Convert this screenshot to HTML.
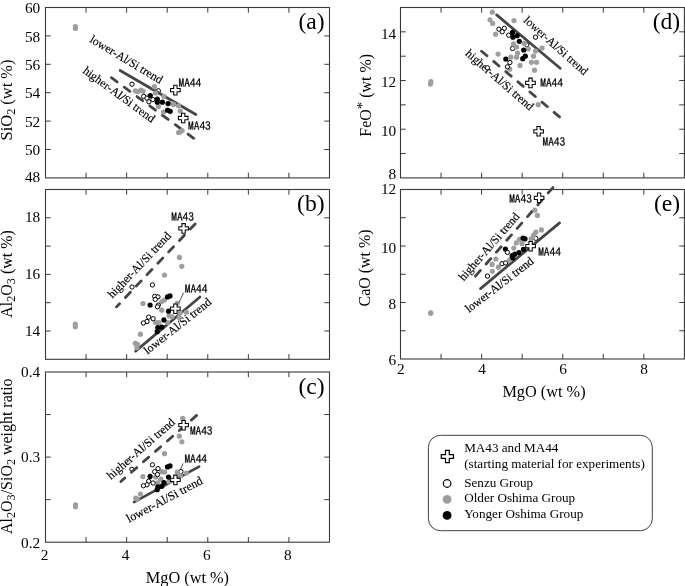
<!DOCTYPE html>
<html><head><meta charset="utf-8"><title>Figure</title>
<style>html,body{margin:0;padding:0;background:#fff}svg{display:block}text{fill:#000}</style></head>
<body><svg width="685" height="586" viewBox="0 0 685 586">
<rect width="685" height="586" fill="#fff"/>
<rect x="45.5" y="7.5" width="284.00" height="170.40" fill="none" stroke="#3a3a3a" stroke-width="1.1"/>
<path d="M86.07 7.5v5.2M86.07 177.9v-5.2M126.64 7.5v5.2M126.64 177.9v-5.2M167.21 7.5v5.2M167.21 177.9v-5.2M207.79 7.5v5.2M207.79 177.9v-5.2M248.36 7.5v5.2M248.36 177.9v-5.2M288.93 7.5v5.2M288.93 177.9v-5.2M45.5 149.50h5.2M329.5 149.50h-5.2M45.5 121.10h5.2M329.5 121.10h-5.2M45.5 92.70h5.2M329.5 92.70h-5.2M45.5 64.30h5.2M329.5 64.30h-5.2M45.5 35.90h5.2M329.5 35.90h-5.2" stroke="#3a3a3a" stroke-width="1" fill="none"/>
<rect x="45.5" y="189.5" width="284.00" height="169.80" fill="none" stroke="#3a3a3a" stroke-width="1.1"/>
<path d="M86.07 189.5v5.2M86.07 359.3v-5.2M126.64 189.5v5.2M126.64 359.3v-5.2M167.21 189.5v5.2M167.21 359.3v-5.2M207.79 189.5v5.2M207.79 359.3v-5.2M248.36 189.5v5.2M248.36 359.3v-5.2M288.93 189.5v5.2M288.93 359.3v-5.2M45.5 331.00h5.2M329.5 331.00h-5.2M45.5 302.70h5.2M329.5 302.70h-5.2M45.5 274.40h5.2M329.5 274.40h-5.2M45.5 246.10h5.2M329.5 246.10h-5.2M45.5 217.80h5.2M329.5 217.80h-5.2" stroke="#3a3a3a" stroke-width="1" fill="none"/>
<rect x="45.5" y="372.0" width="284.00" height="170.20" fill="none" stroke="#3a3a3a" stroke-width="1.1"/>
<path d="M86.07 372.0v5.2M86.07 542.2v-5.2M126.64 372.0v5.2M126.64 542.2v-5.2M167.21 372.0v5.2M167.21 542.2v-5.2M207.79 372.0v5.2M207.79 542.2v-5.2M248.36 372.0v5.2M248.36 542.2v-5.2M288.93 372.0v5.2M288.93 542.2v-5.2M45.5 499.65h5.2M329.5 499.65h-5.2M45.5 457.10h5.2M329.5 457.10h-5.2M45.5 414.55h5.2M329.5 414.55h-5.2" stroke="#3a3a3a" stroke-width="1" fill="none"/>
<rect x="400.5" y="7.5" width="283.90" height="170.40" fill="none" stroke="#3a3a3a" stroke-width="1.1"/>
<path d="M441.06 7.5v5.2M441.06 177.9v-5.2M481.61 7.5v5.2M481.61 177.9v-5.2M522.17 7.5v5.2M522.17 177.9v-5.2M562.73 7.5v5.2M562.73 177.9v-5.2M603.29 7.5v5.2M603.29 177.9v-5.2M643.84 7.5v5.2M643.84 177.9v-5.2M400.5 153.56h5.2M684.4 153.56h-5.2M400.5 129.21h5.2M684.4 129.21h-5.2M400.5 104.87h5.2M684.4 104.87h-5.2M400.5 80.53h5.2M684.4 80.53h-5.2M400.5 56.19h5.2M684.4 56.19h-5.2M400.5 31.84h5.2M684.4 31.84h-5.2" stroke="#3a3a3a" stroke-width="1" fill="none"/>
<rect x="400.5" y="189.5" width="283.90" height="169.50" fill="none" stroke="#3a3a3a" stroke-width="1.1"/>
<path d="M441.06 189.5v5.2M441.06 359.0v-5.2M481.61 189.5v5.2M481.61 359.0v-5.2M522.17 189.5v5.2M522.17 359.0v-5.2M562.73 189.5v5.2M562.73 359.0v-5.2M603.29 189.5v5.2M603.29 359.0v-5.2M643.84 189.5v5.2M643.84 359.0v-5.2M400.5 330.75h5.2M684.4 330.75h-5.2M400.5 302.50h5.2M684.4 302.50h-5.2M400.5 274.25h5.2M684.4 274.25h-5.2M400.5 246.00h5.2M684.4 246.00h-5.2M400.5 217.75h5.2M684.4 217.75h-5.2" stroke="#3a3a3a" stroke-width="1" fill="none"/>
<text x="40.2" y="181.7" text-anchor="end" font-size="15.3" font-family="'Liberation Serif', 'Times New Roman', serif">48</text>
<text x="40.2" y="155.1" text-anchor="end" font-size="15.3" font-family="'Liberation Serif', 'Times New Roman', serif">50</text>
<text x="40.2" y="126.7" text-anchor="end" font-size="15.3" font-family="'Liberation Serif', 'Times New Roman', serif">52</text>
<text x="40.2" y="98.3" text-anchor="end" font-size="15.3" font-family="'Liberation Serif', 'Times New Roman', serif">54</text>
<text x="40.2" y="69.9" text-anchor="end" font-size="15.3" font-family="'Liberation Serif', 'Times New Roman', serif">56</text>
<text x="40.2" y="41.5" text-anchor="end" font-size="15.3" font-family="'Liberation Serif', 'Times New Roman', serif">58</text>
<text x="40.2" y="13.3" text-anchor="end" font-size="15.3" font-family="'Liberation Serif', 'Times New Roman', serif">60</text>
<text x="40.2" y="335.5" text-anchor="end" font-size="15.3" font-family="'Liberation Serif', 'Times New Roman', serif">14</text>
<text x="40.2" y="278.9" text-anchor="end" font-size="15.3" font-family="'Liberation Serif', 'Times New Roman', serif">16</text>
<text x="40.2" y="222.3" text-anchor="end" font-size="15.3" font-family="'Liberation Serif', 'Times New Roman', serif">18</text>
<text x="40.2" y="547.5" text-anchor="end" font-size="15.3" font-family="'Liberation Serif', 'Times New Roman', serif">0.2</text>
<text x="40.2" y="462.4" text-anchor="end" font-size="15.3" font-family="'Liberation Serif', 'Times New Roman', serif">0.3</text>
<text x="40.2" y="377.3" text-anchor="end" font-size="15.3" font-family="'Liberation Serif', 'Times New Roman', serif">0.4</text>
<text x="396.2" y="179.4" text-anchor="end" font-size="15.3" font-family="'Liberation Serif', 'Times New Roman', serif">8</text>
<text x="396.2" y="135.9" text-anchor="end" font-size="15.3" font-family="'Liberation Serif', 'Times New Roman', serif">10</text>
<text x="396.2" y="87.2" text-anchor="end" font-size="15.3" font-family="'Liberation Serif', 'Times New Roman', serif">12</text>
<text x="396.2" y="38.5" text-anchor="end" font-size="15.3" font-family="'Liberation Serif', 'Times New Roman', serif">14</text>
<text x="396.2" y="365.1" text-anchor="end" font-size="15.3" font-family="'Liberation Serif', 'Times New Roman', serif">6</text>
<text x="396.2" y="309.1" text-anchor="end" font-size="15.3" font-family="'Liberation Serif', 'Times New Roman', serif">8</text>
<text x="396.2" y="252.6" text-anchor="end" font-size="15.3" font-family="'Liberation Serif', 'Times New Roman', serif">10</text>
<text x="396.2" y="194.3" text-anchor="end" font-size="15.3" font-family="'Liberation Serif', 'Times New Roman', serif">12</text>
<text x="44.5" y="559.8" text-anchor="middle" font-size="15.3" font-family="'Liberation Serif', 'Times New Roman', serif">2</text>
<text x="125.6" y="559.8" text-anchor="middle" font-size="15.3" font-family="'Liberation Serif', 'Times New Roman', serif">4</text>
<text x="206.8" y="559.8" text-anchor="middle" font-size="15.3" font-family="'Liberation Serif', 'Times New Roman', serif">6</text>
<text x="287.9" y="559.8" text-anchor="middle" font-size="15.3" font-family="'Liberation Serif', 'Times New Roman', serif">8</text>
<text x="400.9" y="374.2" text-anchor="middle" font-size="15.3" font-family="'Liberation Serif', 'Times New Roman', serif">2</text>
<text x="482.0" y="374.2" text-anchor="middle" font-size="15.3" font-family="'Liberation Serif', 'Times New Roman', serif">4</text>
<text x="563.1" y="374.2" text-anchor="middle" font-size="15.3" font-family="'Liberation Serif', 'Times New Roman', serif">6</text>
<text x="644.2" y="374.2" text-anchor="middle" font-size="15.3" font-family="'Liberation Serif', 'Times New Roman', serif">8</text>
<text x="187.4" y="582.6" text-anchor="middle" font-size="16.3" font-family="'Liberation Serif', 'Times New Roman', serif">MgO (wt %)</text>
<text x="544" y="397.2" text-anchor="middle" font-size="16.3" font-family="'Liberation Serif', 'Times New Roman', serif">MgO (wt %)</text>
<text transform="translate(12 100) rotate(-90)" text-anchor="middle" font-size="16.4" font-family="'Liberation Serif', 'Times New Roman', serif">SiO<tspan font-size="12.2" dy="2.5">2</tspan><tspan dy="-2.5"> (wt %)</tspan></text>
<text transform="translate(12.4 274) rotate(-90)" text-anchor="middle" font-size="15.95" font-family="'Liberation Serif', 'Times New Roman', serif">Al<tspan font-size="12.2" dy="2.5">2</tspan><tspan dy="-2.5">O</tspan><tspan font-size="12.2" dy="2.5">3</tspan><tspan dy="-2.5"> (wt %)</tspan></text>
<text transform="translate(12.3 456.2) rotate(-90)" text-anchor="middle" font-size="15.95" font-family="'Liberation Serif', 'Times New Roman', serif">Al<tspan font-size="12.2" dy="2.5">2</tspan><tspan dy="-2.5">O</tspan><tspan font-size="12.2" dy="2.5">3</tspan><tspan dy="-2.5">/SiO</tspan><tspan font-size="12.2" dy="2.5">2</tspan><tspan dy="-2.5"> weight ratio</tspan></text>
<text transform="translate(371 95.3) rotate(-90)" text-anchor="middle" font-size="15.95" font-family="'Liberation Serif', 'Times New Roman', serif">FeO<tspan font-size="15" dy="-3.6">*</tspan><tspan dy="3.6"> (wt %)</tspan></text>
<text transform="translate(370 268) rotate(-90)" text-anchor="middle" font-size="15.95" font-family="'Liberation Serif', 'Times New Roman', serif">CaO (wt %)</text>
<text x="324.6" y="29.4" text-anchor="end" font-size="23.6" font-family="'Liberation Serif', 'Times New Roman', serif">(a)</text>
<text x="324.6" y="211.4" text-anchor="end" font-size="23.6" font-family="'Liberation Serif', 'Times New Roman', serif">(b)</text>
<text x="324.6" y="393.9" text-anchor="end" font-size="23.6" font-family="'Liberation Serif', 'Times New Roman', serif">(c)</text>
<text x="680.2" y="29.4" text-anchor="end" font-size="23.6" font-family="'Liberation Serif', 'Times New Roman', serif">(d)</text>
<text x="680.2" y="211.4" text-anchor="end" font-size="23.6" font-family="'Liberation Serif', 'Times New Roman', serif">(e)</text>
<circle cx="158.4" cy="90.8" r="2.15" fill="#fff" stroke="#000" stroke-width="1"/>
<path d="M111.34 77.68L117.14 81.94M124.19 87.13L129.91 91.33M136.97 96.51L142.69 100.72M149.74 105.90L155.46 110.11M162.51 115.29L168.23 119.49M175.28 124.68L181.00 128.88M188.05 134.07L193.77 138.27" stroke="#454545" stroke-width="2.8" stroke-linecap="round" fill="none"/>
<line x1="120.07" y1="70.48" x2="195.83" y2="114.52" stroke="#454545" stroke-width="2.7" stroke-linecap="round"/>
<text transform="translate(89 41.5) rotate(30.9)" font-size="11.8" font-family="'Liberation Serif', 'Times New Roman', serif" stroke="#000" stroke-width="0.15">lower-Al/Si trend</text>
<text transform="translate(82.2 72.2) rotate(36.2)" font-size="11.8" font-family="'Liberation Serif', 'Times New Roman', serif" stroke="#000" stroke-width="0.15">higher-Al/Si trend</text>
<circle cx="75.4" cy="26.6" r="2.6" fill="#9e9e9e"/>
<circle cx="75.4" cy="28.4" r="2.6" fill="#9e9e9e"/>
<circle cx="135.3" cy="90.8" r="2.6" fill="#9e9e9e"/>
<circle cx="137.8" cy="91.5" r="2.6" fill="#9e9e9e"/>
<circle cx="140.8" cy="90.1" r="2.6" fill="#9e9e9e"/>
<circle cx="143" cy="91.2" r="2.6" fill="#9e9e9e"/>
<circle cx="154.4" cy="86.7" r="2.6" fill="#9e9e9e"/>
<circle cx="155.5" cy="93" r="2.6" fill="#9e9e9e"/>
<circle cx="158.4" cy="106.6" r="2.6" fill="#9e9e9e"/>
<circle cx="163.5" cy="112.1" r="2.6" fill="#9e9e9e"/>
<circle cx="163.9" cy="96.3" r="2.6" fill="#9e9e9e"/>
<circle cx="172" cy="103.6" r="2.6" fill="#9e9e9e"/>
<circle cx="173.7" cy="104.4" r="2.6" fill="#9e9e9e"/>
<circle cx="178.5" cy="105.8" r="2.6" fill="#9e9e9e"/>
<circle cx="180.3" cy="111" r="2.6" fill="#9e9e9e"/>
<circle cx="178.6" cy="132.4" r="2.6" fill="#9e9e9e"/>
<circle cx="182.1" cy="130.6" r="2.6" fill="#9e9e9e"/>
<circle cx="180.3" cy="131.8" r="2.6" fill="#9e9e9e"/>
<circle cx="132" cy="84.2" r="2.15" fill="#fff" stroke="#000" stroke-width="1"/>
<circle cx="143.7" cy="96.3" r="2.15" fill="#fff" stroke="#000" stroke-width="1"/>
<circle cx="147" cy="98.1" r="2.15" fill="#fff" stroke="#000" stroke-width="1"/>
<circle cx="148.9" cy="101.8" r="2.15" fill="#fff" stroke="#000" stroke-width="1"/>
<circle cx="152.9" cy="99.6" r="2.15" fill="#fff" stroke="#000" stroke-width="1"/>
<circle cx="150.3" cy="95.6" r="2.6" fill="#000"/>
<circle cx="157.3" cy="99.2" r="2.6" fill="#000"/>
<circle cx="157.3" cy="102.2" r="2.6" fill="#000"/>
<circle cx="162.4" cy="102.2" r="2.6" fill="#000"/>
<circle cx="168" cy="103.6" r="2.6" fill="#000"/>
<circle cx="167.6" cy="110.2" r="2.6" fill="#000"/>
<circle cx="170.2" cy="111.3" r="2.6" fill="#000"/>
<path d="M173.75 85.3h3.3v3.15h3.15v3.3h-3.15v3.15h-3.3v-3.15h-3.15v-3.3h3.15z" fill="#fff" stroke="#000" stroke-width="1.05" stroke-linejoin="miter"/>
<path d="M181.54999999999998 113.2h3.3v3.15h3.15v3.3h-3.15v3.15h-3.3v-3.15h-3.15v-3.3h3.15z" fill="#fff" stroke="#000" stroke-width="1.05" stroke-linejoin="miter"/>
<text x="178.5" y="86.9" font-size="11.3" font-family="IPAGothic, 'Liberation Sans', sans-serif" stroke="#000" stroke-width="0.22">MA44</text>
<text x="188.1" y="129.9" font-size="11.3" font-family="IPAGothic, 'Liberation Sans', sans-serif" stroke="#000" stroke-width="0.22">MA43</text>
<path d="M116.51 306.88L119.53 303.69M125.45 297.45L130.33 292.29M136.25 286.05L141.13 280.90M147.05 274.65L151.93 269.50M157.85 263.26L162.74 258.10M168.65 251.86L173.54 246.71M179.45 240.47L184.34 235.31M190.25 229.07L195.14 223.92" stroke="#454545" stroke-width="2.8" stroke-linecap="round" fill="none"/>
<line x1="135.63" y1="351.13" x2="199.97" y2="296.97" stroke="#454545" stroke-width="2.7" stroke-linecap="round"/>
<text transform="translate(112.5 298.8) rotate(-46.4)" font-size="11.8" font-family="'Liberation Serif', 'Times New Roman', serif" stroke="#000" stroke-width="0.15">higher-Al/Si trend</text>
<text transform="translate(147.5 354.8) rotate(-38.5)" font-size="11.8" font-family="'Liberation Serif', 'Times New Roman', serif" stroke="#000" stroke-width="0.15">lower-Al/Si trend</text>
<circle cx="75.3" cy="324" r="2.6" fill="#9e9e9e"/>
<circle cx="75.3" cy="326.7" r="2.6" fill="#9e9e9e"/>
<circle cx="179.4" cy="257.4" r="2.6" fill="#9e9e9e"/>
<circle cx="181.8" cy="266.3" r="2.6" fill="#9e9e9e"/>
<circle cx="164.5" cy="275" r="2.6" fill="#9e9e9e"/>
<circle cx="143" cy="303.5" r="2.6" fill="#9e9e9e"/>
<circle cx="161.8" cy="301.5" r="2.6" fill="#9e9e9e"/>
<circle cx="164.4" cy="300" r="2.6" fill="#9e9e9e"/>
<circle cx="161.8" cy="310.2" r="2.6" fill="#9e9e9e"/>
<circle cx="177.2" cy="303.3" r="2.6" fill="#9e9e9e"/>
<circle cx="186.4" cy="312.2" r="2.6" fill="#9e9e9e"/>
<circle cx="180.3" cy="312.8" r="2.6" fill="#9e9e9e"/>
<circle cx="169" cy="315.8" r="2.6" fill="#9e9e9e"/>
<circle cx="172.1" cy="316.8" r="2.6" fill="#9e9e9e"/>
<circle cx="179.2" cy="317.4" r="2.6" fill="#9e9e9e"/>
<circle cx="155.7" cy="322.5" r="2.6" fill="#9e9e9e"/>
<circle cx="158.8" cy="322.5" r="2.6" fill="#9e9e9e"/>
<circle cx="167.5" cy="322.5" r="2.6" fill="#9e9e9e"/>
<circle cx="140.4" cy="334.2" r="2.6" fill="#9e9e9e"/>
<circle cx="135.3" cy="343.3" r="2.6" fill="#9e9e9e"/>
<circle cx="137.5" cy="344.3" r="2.6" fill="#9e9e9e"/>
<circle cx="136.8" cy="347.7" r="2.6" fill="#9e9e9e"/>
<circle cx="167.5" cy="296.9" r="2.6" fill="#000"/>
<circle cx="170" cy="295.9" r="2.6" fill="#000"/>
<circle cx="150.1" cy="305.1" r="2.6" fill="#000"/>
<circle cx="168.5" cy="311.2" r="2.6" fill="#000"/>
<circle cx="163.9" cy="319.9" r="2.6" fill="#000"/>
<circle cx="157.8" cy="327.6" r="2.6" fill="#000"/>
<circle cx="161.8" cy="327.1" r="2.6" fill="#000"/>
<circle cx="157.2" cy="331.7" r="2.6" fill="#000"/>
<circle cx="132" cy="287" r="2.15" fill="#fff" stroke="#000" stroke-width="1"/>
<circle cx="152.4" cy="284.9" r="2.15" fill="#fff" stroke="#000" stroke-width="1"/>
<circle cx="154.7" cy="296.4" r="2.15" fill="#fff" stroke="#000" stroke-width="1"/>
<circle cx="158" cy="296.9" r="2.15" fill="#fff" stroke="#000" stroke-width="1"/>
<circle cx="155.2" cy="299.4" r="2.15" fill="#fff" stroke="#000" stroke-width="1"/>
<circle cx="158.3" cy="305.1" r="2.15" fill="#fff" stroke="#000" stroke-width="1"/>
<circle cx="157.5" cy="306.8" r="2.15" fill="#fff" stroke="#000" stroke-width="1"/>
<circle cx="148.7" cy="317.1" r="2.15" fill="#fff" stroke="#000" stroke-width="1"/>
<circle cx="153.1" cy="318.7" r="2.15" fill="#fff" stroke="#000" stroke-width="1"/>
<circle cx="147" cy="321.5" r="2.15" fill="#fff" stroke="#000" stroke-width="1"/>
<circle cx="143.4" cy="323" r="2.15" fill="#fff" stroke="#000" stroke-width="1"/>
<line x1="183.6" y1="292.7" x2="178.8" y2="302.9" stroke="#222" stroke-width="0.8"/>
<path d="M173.75 303.9h3.3v3.15h3.15v3.3h-3.15v3.15h-3.3v-3.15h-3.15v-3.3h3.15z" fill="#fff" stroke="#000" stroke-width="1.05" stroke-linejoin="miter"/>
<path d="M181.95 223.6h3.3v3.15h3.15v3.3h-3.15v3.15h-3.3v-3.15h-3.15v-3.3h3.15z" fill="#fff" stroke="#000" stroke-width="1.05" stroke-linejoin="miter"/>
<text x="171.3" y="220.5" font-size="11.3" font-family="IPAGothic, 'Liberation Sans', sans-serif" stroke="#000" stroke-width="0.22">MA43</text>
<text x="184.8" y="293.2" font-size="11.3" font-family="IPAGothic, 'Liberation Sans', sans-serif" stroke="#000" stroke-width="0.22">MA44</text>
<circle cx="131.9" cy="469.3" r="2.15" fill="#fff" stroke="#000" stroke-width="1"/>
<circle cx="180.9" cy="471.6" r="2.15" fill="#fff" stroke="#000" stroke-width="1"/>
<path d="M120.83 481.50L124.82 478.02M131.44 472.25L136.79 467.59M143.41 461.82L148.76 457.15M155.38 451.39L160.73 446.72M167.35 440.95L172.70 436.29M179.32 430.52L184.67 425.85M191.29 420.08L196.64 415.42" stroke="#454545" stroke-width="2.8" stroke-linecap="round" fill="none"/>
<line x1="133.99" y1="502.15" x2="199.11" y2="466.65" stroke="#454545" stroke-width="2.7" stroke-linecap="round"/>
<text transform="translate(111.1 479.9) rotate(-41.2)" font-size="11.8" font-family="'Liberation Serif', 'Times New Roman', serif" stroke="#000" stroke-width="0.15">higher-Al/Si trend</text>
<text transform="translate(129.1 522.8) rotate(-28)" font-size="12.05" font-family="'Liberation Serif', 'Times New Roman', serif" stroke="#000" stroke-width="0.15">lower-Al/Si trend</text>
<circle cx="75.5" cy="504.9" r="2.6" fill="#9e9e9e"/>
<circle cx="75.5" cy="506.8" r="2.6" fill="#9e9e9e"/>
<circle cx="182.7" cy="418.4" r="2.6" fill="#9e9e9e"/>
<circle cx="179.3" cy="436.2" r="2.6" fill="#9e9e9e"/>
<circle cx="181.9" cy="441.8" r="2.6" fill="#9e9e9e"/>
<circle cx="164.5" cy="453.7" r="2.6" fill="#9e9e9e"/>
<circle cx="142.9" cy="476.6" r="2.6" fill="#9e9e9e"/>
<circle cx="161.8" cy="471.7" r="2.6" fill="#9e9e9e"/>
<circle cx="164.7" cy="472" r="2.6" fill="#9e9e9e"/>
<circle cx="160.8" cy="479.2" r="2.6" fill="#9e9e9e"/>
<circle cx="155.7" cy="477.1" r="2.6" fill="#9e9e9e"/>
<circle cx="177.2" cy="472" r="2.6" fill="#9e9e9e"/>
<circle cx="186.4" cy="473" r="2.6" fill="#9e9e9e"/>
<circle cx="180.3" cy="475.6" r="2.6" fill="#9e9e9e"/>
<circle cx="169" cy="481.7" r="2.6" fill="#9e9e9e"/>
<circle cx="140.4" cy="494" r="2.6" fill="#9e9e9e"/>
<circle cx="135.7" cy="498.1" r="2.6" fill="#9e9e9e"/>
<circle cx="137.3" cy="499.1" r="2.6" fill="#9e9e9e"/>
<circle cx="157.8" cy="482.8" r="2.6" fill="#9e9e9e"/>
<circle cx="167.5" cy="466.9" r="2.6" fill="#000"/>
<circle cx="170" cy="465.9" r="2.6" fill="#000"/>
<circle cx="150.1" cy="476.4" r="2.6" fill="#000"/>
<circle cx="168.5" cy="477.1" r="2.6" fill="#000"/>
<circle cx="163.9" cy="482.5" r="2.6" fill="#000"/>
<circle cx="161.8" cy="486.3" r="2.6" fill="#000"/>
<circle cx="157.8" cy="486.8" r="2.6" fill="#000"/>
<circle cx="157.2" cy="489.7" r="2.6" fill="#000"/>
<circle cx="152.4" cy="464.8" r="2.15" fill="#fff" stroke="#000" stroke-width="1"/>
<circle cx="158" cy="468.6" r="2.15" fill="#fff" stroke="#000" stroke-width="1"/>
<circle cx="154.7" cy="471.7" r="2.15" fill="#fff" stroke="#000" stroke-width="1"/>
<circle cx="157.5" cy="474.5" r="2.15" fill="#fff" stroke="#000" stroke-width="1"/>
<circle cx="148.7" cy="481.2" r="2.15" fill="#fff" stroke="#000" stroke-width="1"/>
<circle cx="153.1" cy="483" r="2.15" fill="#fff" stroke="#000" stroke-width="1"/>
<circle cx="147" cy="484.8" r="2.15" fill="#fff" stroke="#000" stroke-width="1"/>
<circle cx="143.4" cy="485.8" r="2.15" fill="#fff" stroke="#000" stroke-width="1"/>
<line x1="183.2" y1="463.4" x2="180.4" y2="469.5" stroke="#222" stroke-width="0.8"/>
<path d="M173.75 475.09999999999997h3.3v3.15h3.15v3.3h-3.15v3.15h-3.3v-3.15h-3.15v-3.3h3.15z" fill="#fff" stroke="#000" stroke-width="1.05" stroke-linejoin="miter"/>
<path d="M181.95 420.4h3.3v3.15h3.15v3.3h-3.15v3.15h-3.3v-3.15h-3.15v-3.3h3.15z" fill="#fff" stroke="#000" stroke-width="1.05" stroke-linejoin="miter"/>
<text x="189.9" y="434.7" font-size="11.3" font-family="IPAGothic, 'Liberation Sans', sans-serif" stroke="#000" stroke-width="0.22">MA43</text>
<text x="184.4" y="463.4" font-size="11.3" font-family="IPAGothic, 'Liberation Sans', sans-serif" stroke="#000" stroke-width="0.22">MA44</text>
<circle cx="512.5" cy="48.5" r="2.15" fill="#fff" stroke="#000" stroke-width="1"/>
<circle cx="526.8" cy="44.9" r="2.15" fill="#fff" stroke="#000" stroke-width="1"/>
<path d="M481.57 51.20L487.00 55.78M493.66 61.39L499.09 65.96M505.75 71.58L511.18 76.15M517.84 81.76L523.26 86.34M529.92 91.95L535.35 96.52M542.01 102.14L547.44 106.71M554.10 112.32L559.53 116.90" stroke="#454545" stroke-width="2.8" stroke-linecap="round" fill="none"/>
<line x1="496.63" y1="14.87" x2="560.17" y2="68.33" stroke="#454545" stroke-width="2.7" stroke-linecap="round"/>
<text transform="translate(523.05 21.3) rotate(41.8)" font-size="11.65" font-family="'Liberation Serif', 'Times New Roman', serif" stroke="#000" stroke-width="0.15">lower-Al/Si trend</text>
<text transform="translate(464.7 54.5) rotate(41)" font-size="11.8" font-family="'Liberation Serif', 'Times New Roman', serif" stroke="#000" stroke-width="0.15">higher-Al/Si trend</text>
<circle cx="430.9" cy="81.6" r="2.6" fill="#9e9e9e"/>
<circle cx="430.4" cy="84.1" r="2.6" fill="#9e9e9e"/>
<circle cx="492.3" cy="12.2" r="2.6" fill="#9e9e9e"/>
<circle cx="490" cy="19.8" r="2.6" fill="#9e9e9e"/>
<circle cx="492.7" cy="23.4" r="2.6" fill="#9e9e9e"/>
<circle cx="514" cy="20.6" r="2.6" fill="#9e9e9e"/>
<circle cx="495.6" cy="34.2" r="2.6" fill="#9e9e9e"/>
<circle cx="498.1" cy="54.1" r="2.6" fill="#9e9e9e"/>
<circle cx="513.5" cy="43.9" r="2.6" fill="#9e9e9e"/>
<circle cx="516.6" cy="47" r="2.6" fill="#9e9e9e"/>
<circle cx="524.2" cy="43.4" r="2.6" fill="#9e9e9e"/>
<circle cx="528.3" cy="49" r="2.6" fill="#9e9e9e"/>
<circle cx="517.6" cy="53.1" r="2.6" fill="#9e9e9e"/>
<circle cx="516.6" cy="57.2" r="2.6" fill="#9e9e9e"/>
<circle cx="510.9" cy="57.2" r="2.6" fill="#9e9e9e"/>
<circle cx="535.5" cy="51.1" r="2.6" fill="#9e9e9e"/>
<circle cx="533.5" cy="56.2" r="2.6" fill="#9e9e9e"/>
<circle cx="531.4" cy="62.3" r="2.6" fill="#9e9e9e"/>
<circle cx="536.5" cy="62.3" r="2.6" fill="#9e9e9e"/>
<circle cx="520" cy="65.4" r="2.6" fill="#9e9e9e"/>
<circle cx="509.7" cy="69.2" r="2.6" fill="#9e9e9e"/>
<circle cx="534.5" cy="70.2" r="2.6" fill="#9e9e9e"/>
<circle cx="542.1" cy="48" r="2.6" fill="#9e9e9e"/>
<circle cx="538.2" cy="104.7" r="2.6" fill="#9e9e9e"/>
<circle cx="512.5" cy="32.4" r="2.6" fill="#000"/>
<circle cx="513" cy="37.2" r="2.6" fill="#000"/>
<circle cx="517.1" cy="35.7" r="2.6" fill="#000"/>
<circle cx="519.3" cy="41.3" r="2.6" fill="#000"/>
<circle cx="523.7" cy="50" r="2.6" fill="#000"/>
<circle cx="525.3" cy="56.2" r="2.6" fill="#000"/>
<circle cx="522.7" cy="58.7" r="2.6" fill="#000"/>
<circle cx="505.8" cy="59" r="2.6" fill="#000"/>
<circle cx="498.9" cy="29.1" r="2.15" fill="#fff" stroke="#000" stroke-width="1"/>
<circle cx="504.3" cy="28.3" r="2.15" fill="#fff" stroke="#000" stroke-width="1"/>
<circle cx="502.2" cy="31.8" r="2.15" fill="#fff" stroke="#000" stroke-width="1"/>
<circle cx="508.7" cy="35.2" r="2.15" fill="#fff" stroke="#000" stroke-width="1"/>
<circle cx="535.5" cy="37.2" r="2.15" fill="#fff" stroke="#000" stroke-width="1"/>
<circle cx="509.9" cy="62.5" r="2.15" fill="#fff" stroke="#000" stroke-width="1"/>
<circle cx="507.4" cy="66.8" r="2.15" fill="#fff" stroke="#000" stroke-width="1"/>
<circle cx="487.4" cy="67.8" r="2.15" fill="#fff" stroke="#000" stroke-width="1"/>
<path d="M528.85 78.10000000000001h3.3v3.15h3.15v3.3h-3.15v3.15h-3.3v-3.15h-3.15v-3.3h3.15z" fill="#fff" stroke="#000" stroke-width="1.05" stroke-linejoin="miter"/>
<path d="M536.95 126.50000000000001h3.3v3.15h3.15v3.3h-3.15v3.15h-3.3v-3.15h-3.15v-3.3h3.15z" fill="#fff" stroke="#000" stroke-width="1.05" stroke-linejoin="miter"/>
<text x="540.3" y="86.6" font-size="11.3" font-family="IPAGothic, 'Liberation Sans', sans-serif" stroke="#000" stroke-width="0.22">MA44</text>
<text x="542.5" y="145.5" font-size="11.3" font-family="IPAGothic, 'Liberation Sans', sans-serif" stroke="#000" stroke-width="0.22">MA43</text>
<circle cx="502" cy="263.7" r="2.15" fill="#fff" stroke="#000" stroke-width="1"/>
<circle cx="505.6" cy="262.9" r="2.15" fill="#fff" stroke="#000" stroke-width="1"/>
<circle cx="535.8" cy="238.3" r="2.15" fill="#fff" stroke="#000" stroke-width="1"/>
<path d="M475.40 276.17L480.40 270.45M486.08 263.96L490.75 258.61M496.43 252.11L501.11 246.77M506.79 240.27L511.46 234.92M517.14 228.43L521.82 223.08M527.50 216.58L532.17 211.24M537.85 204.74L542.52 199.40M548.21 192.90L552.88 187.55" stroke="#454545" stroke-width="2.8" stroke-linecap="round" fill="none"/>
<line x1="480.54" y1="288.64" x2="559.56" y2="222.86" stroke="#454545" stroke-width="2.7" stroke-linecap="round"/>
<text transform="translate(463.7 281.5) rotate(-48.9)" font-size="11.8" font-family="'Liberation Serif', 'Times New Roman', serif" stroke="#000" stroke-width="0.15">higher-Al/Si trend</text>
<text transform="translate(469 313) rotate(-37.6)" font-size="11.8" font-family="'Liberation Serif', 'Times New Roman', serif" stroke="#000" stroke-width="0.15">lower-Al/Si trend</text>
<circle cx="430.7" cy="312.8" r="2.6" fill="#9e9e9e"/>
<circle cx="430.7" cy="313.3" r="2.6" fill="#9e9e9e"/>
<circle cx="534.8" cy="210.2" r="2.6" fill="#9e9e9e"/>
<circle cx="537.4" cy="215.4" r="2.6" fill="#9e9e9e"/>
<circle cx="541.4" cy="229.9" r="2.6" fill="#9e9e9e"/>
<circle cx="535.8" cy="232.2" r="2.6" fill="#9e9e9e"/>
<circle cx="533.7" cy="235.2" r="2.6" fill="#9e9e9e"/>
<circle cx="531.2" cy="238.8" r="2.6" fill="#9e9e9e"/>
<circle cx="519.4" cy="239.3" r="2.6" fill="#9e9e9e"/>
<circle cx="516.3" cy="242.9" r="2.6" fill="#9e9e9e"/>
<circle cx="513.8" cy="248" r="2.6" fill="#9e9e9e"/>
<circle cx="495.9" cy="259" r="2.6" fill="#9e9e9e"/>
<circle cx="492.1" cy="264.4" r="2.6" fill="#9e9e9e"/>
<circle cx="498.4" cy="267.2" r="2.6" fill="#9e9e9e"/>
<circle cx="492.3" cy="271.3" r="2.6" fill="#9e9e9e"/>
<circle cx="509.7" cy="259.8" r="2.6" fill="#9e9e9e"/>
<circle cx="522" cy="243.4" r="2.6" fill="#9e9e9e"/>
<circle cx="523" cy="238.1" r="2.6" fill="#000"/>
<circle cx="525" cy="238.8" r="2.6" fill="#000"/>
<circle cx="505.4" cy="249" r="2.6" fill="#000"/>
<circle cx="523.5" cy="249.4" r="2.6" fill="#000"/>
<circle cx="518.9" cy="252.6" r="2.6" fill="#000"/>
<circle cx="514.8" cy="254.2" r="2.6" fill="#000"/>
<circle cx="512.2" cy="255.7" r="2.6" fill="#000"/>
<circle cx="512.8" cy="257.8" r="2.6" fill="#000"/>
<circle cx="487.5" cy="276.1" r="2.15" fill="#fff" stroke="#000" stroke-width="1"/>
<circle cx="507.4" cy="252.4" r="2.15" fill="#fff" stroke="#000" stroke-width="1"/>
<path d="M528.95 241.39999999999998h3.3v3.15h3.15v3.3h-3.15v3.15h-3.3v-3.15h-3.15v-3.3h3.15z" fill="#fff" stroke="#000" stroke-width="1.05" stroke-linejoin="miter"/>
<path d="M537.45 193.0h3.3v3.15h3.15v3.3h-3.15v3.15h-3.3v-3.15h-3.15v-3.3h3.15z" fill="#fff" stroke="#000" stroke-width="1.05" stroke-linejoin="miter"/>
<text x="509.2" y="202.6" font-size="11.3" font-family="IPAGothic, 'Liberation Sans', sans-serif" stroke="#000" stroke-width="0.22">MA43</text>
<text x="538.2" y="256.4" font-size="11.3" font-family="IPAGothic, 'Liberation Sans', sans-serif" stroke="#000" stroke-width="0.22">MA44</text>
<rect x="428.4" y="435.3" width="223.9" height="95.4" rx="12" ry="12" fill="#fff" stroke="#2a2a2a" stroke-width="0.9"/>
<path d="M445.5 450.4h3.8v4.199999999999999h4.199999999999999v3.8h-4.199999999999999v4.199999999999999h-3.8v-4.199999999999999h-4.199999999999999v-3.8h4.199999999999999z" fill="#fff" stroke="#000" stroke-width="1.2" stroke-linejoin="miter"/>
<circle cx="447.1" cy="483.5" r="3.8" fill="#fff" stroke="#000" stroke-width="1.2"/>
<circle cx="447.1" cy="499.3" r="4.4" fill="#9e9e9e"/>
<circle cx="447.1" cy="515.4" r="4.4" fill="#000"/>
<text x="464.2" y="451.9" font-size="13.15" font-family="'Liberation Serif', 'Times New Roman', serif">MA43 and MA44</text>
<text x="464.2" y="467.8" font-size="13.15" font-family="'Liberation Serif', 'Times New Roman', serif">(starting material for experiments)</text>
<text x="464.2" y="486.9" font-size="13.15" font-family="'Liberation Serif', 'Times New Roman', serif">Senzu Group</text>
<text x="464.2" y="502.2" font-size="13.15" font-family="'Liberation Serif', 'Times New Roman', serif">Older Oshima Group</text>
<text x="464.2" y="518.3" font-size="13.15" font-family="'Liberation Serif', 'Times New Roman', serif">Yonger Oshima Group</text>
</svg></body></html>
